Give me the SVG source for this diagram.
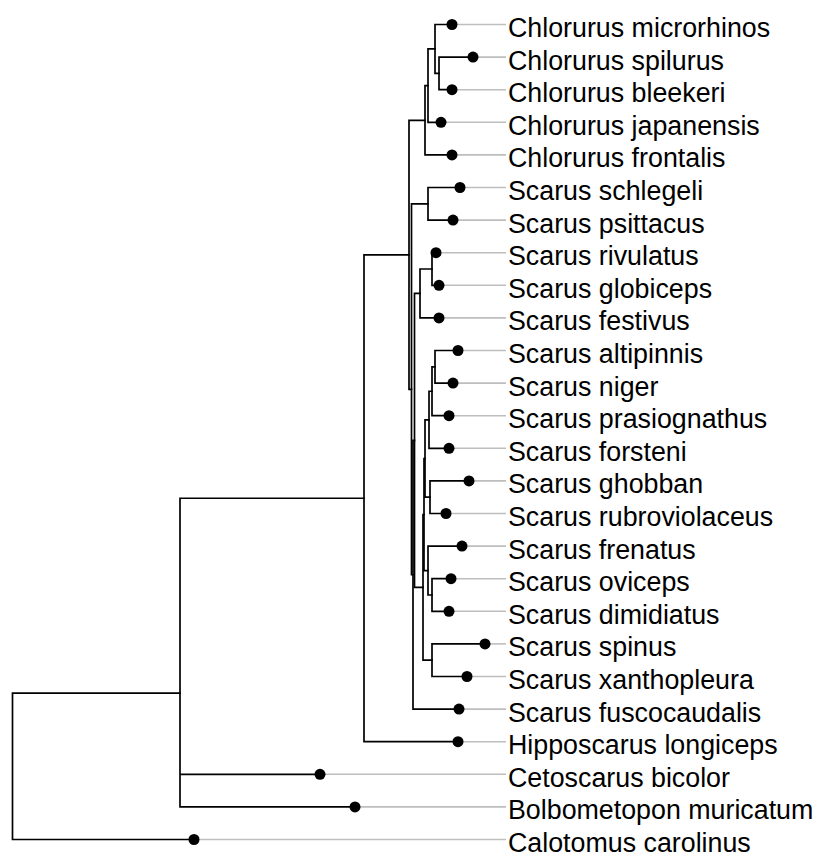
<svg xmlns="http://www.w3.org/2000/svg" width="822" height="855" viewBox="0 0 822 855">
<style>
.e{fill:none;stroke:#000;stroke-width:1.7;stroke-linecap:square}
.g{stroke:#bebebe;stroke-width:1.6}
.d{fill:#000}
.t{font-family:"Liberation Sans",Arial,sans-serif;font-size:26.8px;fill:#000}
</style>
<rect width="822" height="855" fill="#fff"/>
<g id="connectors">
<path class="e" d="M439,57.1V89.7M439,57.1H473M439,89.7H452"/>
<path class="e" d="M435,24.5V73.4M435,24.5H452M435,73.4H439"/>
<path class="e" d="M428,48.95V122.3M428,48.95H435M428,122.3H441"/>
<path class="e" d="M425,85.6V154.9M425,85.6H428M425,154.9H452"/>
<path class="e" d="M428,187.5V220.1M428,187.5H460M428,220.1H453"/>
<path class="e" d="M432,252.7V285.3M432,252.7H436M432,285.3H439"/>
<path class="e" d="M420,269V317.9M420,269H432M420,317.9H439"/>
<path class="e" d="M435,350.5V383.1H453M435,350.5H458"/>
<path class="e" d="M432,366.8V415.7H449M432,366.8H435"/>
<path class="e" d="M429,391.25V448.3H449M429,391.25H432"/>
<path class="e" d="M430,480.9V513.5H446M430,480.9H469"/>
<path class="e" d="M425,419.8V497.2H430M425,419.8H429"/>
<path class="e" d="M432,578.7V611.3H449M432,578.7H451"/>
<path class="e" d="M428,546.1V595H432M428,546.1H462"/>
<path class="e" d="M424,458.5V570.55H428M424,458.5H425"/>
<path class="e" d="M432,643.9V676.5H467M432,643.9H485"/>
<path class="e" d="M423,514.5V660.2H432M423,514.5H424"/>
<path class="e" d="M414.5,293.45V587.35H423M414.5,293.45H420"/>
<path class="e" d="M413,440.4V709.1H459M413,440.4H414.5"/>
<path class="e" d="M411.5,203.8V574.75H413M411.5,203.8H428"/>
<path class="e" d="M409,120.3V389.3H411.5M409,120.3H425"/>
<path class="e" d="M364,254.8V741.7H458M364,254.8H409"/>
<path class="e" d="M180,498.25V806.9H355M180,498.25H364M180,774.3H320"/>
<path class="e" d="M12.5,693.15V839.5H194M12.5,693.15H180"/>
</g>
<g id="tip-chlorurus-microrhinos"><line class="g" x1="452" y1="24.5" x2="506" y2="24.5"/><circle class="d" cx="452" cy="24.5" r="5.5"/><text class="t" x="508" y="37">Chlorurus microrhinos</text></g>
<g id="tip-chlorurus-spilurus"><line class="g" x1="473" y1="57.1" x2="506" y2="57.1"/><circle class="d" cx="473" cy="57.1" r="5.5"/><text class="t" x="508" y="69.6">Chlorurus spilurus</text></g>
<g id="tip-chlorurus-bleekeri"><line class="g" x1="452" y1="89.7" x2="506" y2="89.7"/><circle class="d" cx="452" cy="89.7" r="5.5"/><text class="t" x="508" y="102.2">Chlorurus bleekeri</text></g>
<g id="tip-chlorurus-japanensis"><line class="g" x1="441" y1="122.3" x2="506" y2="122.3"/><circle class="d" cx="441" cy="122.3" r="5.5"/><text class="t" x="508" y="134.8">Chlorurus japanensis</text></g>
<g id="tip-chlorurus-frontalis"><line class="g" x1="452" y1="154.9" x2="506" y2="154.9"/><circle class="d" cx="452" cy="154.9" r="5.5"/><text class="t" x="508" y="167.4">Chlorurus frontalis</text></g>
<g id="tip-scarus-schlegeli"><line class="g" x1="460" y1="187.5" x2="506" y2="187.5"/><circle class="d" cx="460" cy="187.5" r="5.5"/><text class="t" x="508" y="200">Scarus schlegeli</text></g>
<g id="tip-scarus-psittacus"><line class="g" x1="453" y1="220.1" x2="506" y2="220.1"/><circle class="d" cx="453" cy="220.1" r="5.5"/><text class="t" x="508" y="232.6">Scarus psittacus</text></g>
<g id="tip-scarus-rivulatus"><line class="g" x1="436" y1="252.7" x2="506" y2="252.7"/><circle class="d" cx="436" cy="252.7" r="5.5"/><text class="t" x="508" y="265.2">Scarus rivulatus</text></g>
<g id="tip-scarus-globiceps"><line class="g" x1="439" y1="285.3" x2="506" y2="285.3"/><circle class="d" cx="439" cy="285.3" r="5.5"/><text class="t" x="508" y="297.8">Scarus globiceps</text></g>
<g id="tip-scarus-festivus"><line class="g" x1="439" y1="317.9" x2="506" y2="317.9"/><circle class="d" cx="439" cy="317.9" r="5.5"/><text class="t" x="508" y="330.4">Scarus festivus</text></g>
<g id="tip-scarus-altipinnis"><line class="g" x1="458" y1="350.5" x2="506" y2="350.5"/><circle class="d" cx="458" cy="350.5" r="5.5"/><text class="t" x="508" y="363">Scarus altipinnis</text></g>
<g id="tip-scarus-niger"><line class="g" x1="453" y1="383.1" x2="506" y2="383.1"/><circle class="d" cx="453" cy="383.1" r="5.5"/><text class="t" x="508" y="395.6">Scarus niger</text></g>
<g id="tip-scarus-prasiognathus"><line class="g" x1="449" y1="415.7" x2="506" y2="415.7"/><circle class="d" cx="449" cy="415.7" r="5.5"/><text class="t" x="508" y="428.2">Scarus prasiognathus</text></g>
<g id="tip-scarus-forsteni"><line class="g" x1="449" y1="448.3" x2="506" y2="448.3"/><circle class="d" cx="449" cy="448.3" r="5.5"/><text class="t" x="508" y="460.8">Scarus forsteni</text></g>
<g id="tip-scarus-ghobban"><line class="g" x1="469" y1="480.9" x2="506" y2="480.9"/><circle class="d" cx="469" cy="480.9" r="5.5"/><text class="t" x="508" y="493.4">Scarus ghobban</text></g>
<g id="tip-scarus-rubroviolaceus"><line class="g" x1="446" y1="513.5" x2="506" y2="513.5"/><circle class="d" cx="446" cy="513.5" r="5.5"/><text class="t" x="508" y="526">Scarus rubroviolaceus</text></g>
<g id="tip-scarus-frenatus"><line class="g" x1="462" y1="546.1" x2="506" y2="546.1"/><circle class="d" cx="462" cy="546.1" r="5.5"/><text class="t" x="508" y="558.6">Scarus frenatus</text></g>
<g id="tip-scarus-oviceps"><line class="g" x1="451" y1="578.7" x2="506" y2="578.7"/><circle class="d" cx="451" cy="578.7" r="5.5"/><text class="t" x="508" y="591.2">Scarus oviceps</text></g>
<g id="tip-scarus-dimidiatus"><line class="g" x1="449" y1="611.3" x2="506" y2="611.3"/><circle class="d" cx="449" cy="611.3" r="5.5"/><text class="t" x="508" y="623.8">Scarus dimidiatus</text></g>
<g id="tip-scarus-spinus"><line class="g" x1="485" y1="643.9" x2="506" y2="643.9"/><circle class="d" cx="485" cy="643.9" r="5.5"/><text class="t" x="508" y="656.4">Scarus spinus</text></g>
<g id="tip-scarus-xanthopleura"><line class="g" x1="467" y1="676.5" x2="506" y2="676.5"/><circle class="d" cx="467" cy="676.5" r="5.5"/><text class="t" x="508" y="689">Scarus xanthopleura</text></g>
<g id="tip-scarus-fuscocaudalis"><line class="g" x1="459" y1="709.1" x2="506" y2="709.1"/><circle class="d" cx="459" cy="709.1" r="5.5"/><text class="t" x="508" y="721.6">Scarus fuscocaudalis</text></g>
<g id="tip-hipposcarus-longiceps"><line class="g" x1="458" y1="741.7" x2="506" y2="741.7"/><circle class="d" cx="458" cy="741.7" r="5.5"/><text class="t" x="508" y="754.2">Hipposcarus longiceps</text></g>
<g id="tip-cetoscarus-bicolor"><line class="g" x1="320" y1="774.3" x2="506" y2="774.3"/><circle class="d" cx="320" cy="774.3" r="5.5"/><text class="t" x="508" y="786.8">Cetoscarus bicolor</text></g>
<g id="tip-bolbometopon-muricatum"><line class="g" x1="355" y1="806.9" x2="506" y2="806.9"/><circle class="d" cx="355" cy="806.9" r="5.5"/><text class="t" x="508" y="819.4">Bolbometopon muricatum</text></g>
<g id="tip-calotomus-carolinus"><line class="g" x1="194" y1="839.5" x2="506" y2="839.5"/><circle class="d" cx="194" cy="839.5" r="5.5"/><text class="t" x="508" y="852">Calotomus carolinus</text></g>
</svg>
